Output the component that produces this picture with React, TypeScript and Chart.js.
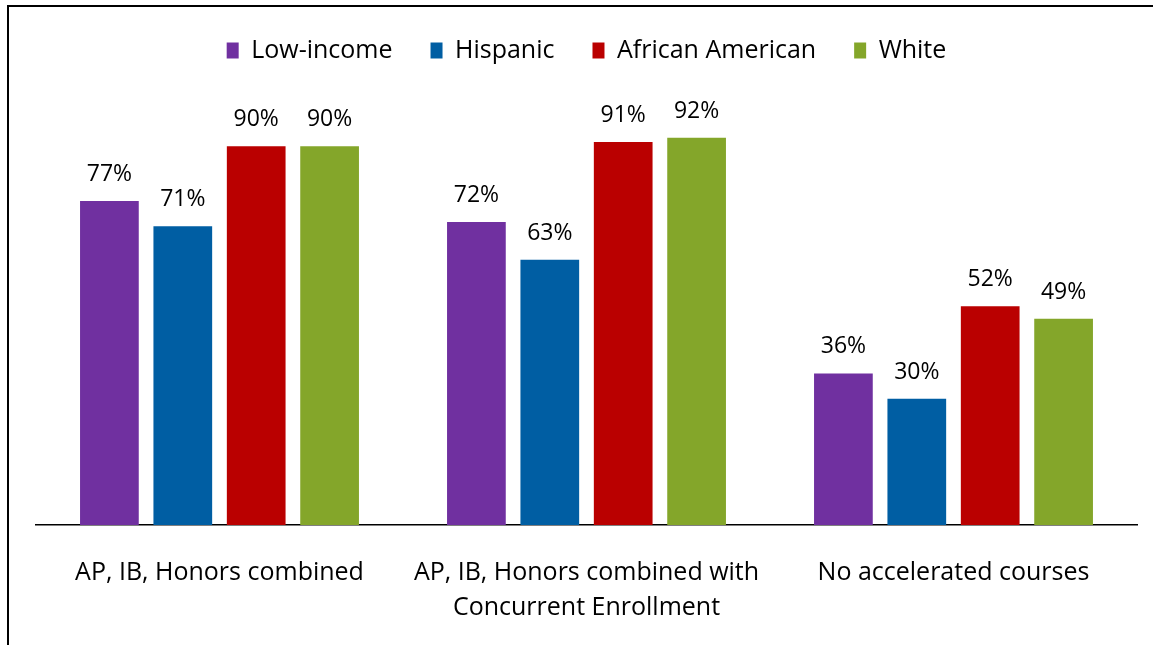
import React, { useEffect, useRef } from "react";
import { Chart, registerables } from "chart.js";

Chart.register(...registerables);

const categories: (string | string[])[] = [
  "AP, IB, Honors combined",
  ["AP, IB, Honors combined with", "Concurrent Enrollment"],
  "No accelerated courses",
];
const lowIncome = [77, 72, 36];
const hispanic = [71, 63, 30];
const africanAmerican = [90, 91, 52];
const white = [90, 92, 49];

const FONT = "'Open Sans', 'DejaVu Sans', sans-serif";

const dataLabelPlugin = {
  id: "dataLabels",
  afterDatasetsDraw(chart: any) {
    const ctx = chart.ctx;
    ctx.save();
    ctx.font = `23px ${FONT}`;
    ctx.fillStyle = "#000";
    ctx.textAlign = "center";
    ctx.textBaseline = "alphabetic";
    chart.data.datasets.forEach((ds: any, i: number) => {
      const meta = chart.getDatasetMeta(i);
      meta.data.forEach((bar: any, j: number) => {
        ctx.fillText(`${ds.data[j]}%`, bar.x, bar.y - 20);
      });
    });
    ctx.restore();
  },
};

export default function App() {
  const ref = useRef<HTMLCanvasElement>(null);
  useEffect(() => {
    if (!ref.current) return;
    const chart = new Chart(ref.current, {
      type: "bar",
      data: {
        labels: categories as any,
        datasets: [
          { label: "Low-income", data: lowIncome, backgroundColor: "#7030A0" },
          { label: "Hispanic", data: hispanic, backgroundColor: "#005EA3" },
          { label: "African American", data: africanAmerican, backgroundColor: "#BA0000" },
          { label: "White", data: white, backgroundColor: "#84A62A" },
        ],
      },
      options: {
        animation: false,
        responsive: false,
        layout: { padding: { left: 36, right: 16, top: 0, bottom: 0 } },
        datasets: { bar: { barPercentage: 0.8, categoryPercentage: 0.8 } } as any,
        plugins: {
          legend: {
            display: true,
            position: "top",
            labels: {
              boxWidth: 12,
              boxHeight: 16,
              padding: 38,
              color: "#000",
              font: { family: FONT, size: 25 },
            },
          },
          tooltip: { enabled: false },
        },
        scales: {
          x: {
            grid: { display: false, drawTicks: false },
            border: { display: true, color: "#000", width: 1.5 },
            ticks: {
              color: "#000",
              padding: 30,
              maxRotation: 0,
              autoSkip: false,
              font: { family: FONT, size: 25, lineHeight: 1.4 },
            },
          },
          y: {
            display: false,
            min: 0,
            max: 107.4,
          },
        },
      },
      plugins: [dataLabelPlugin],
    });
    return () => chart.destroy();
  }, []);
  return (
    <div style={{ position: "fixed", left: 0, top: 0, width: 1153, height: 645, overflow: "hidden", background: "#fff" }}>
      <canvas ref={ref} width={1153} height={655} style={{ position: "absolute", left: 0, top: 0 }} />
      <div
        style={{
          position: "absolute",
          left: 7,
          top: 5,
          width: 2000,
          height: 2000,
          border: "2px solid #000",
          pointerEvents: "none",
        }}
      />
    </div>
  );
}
